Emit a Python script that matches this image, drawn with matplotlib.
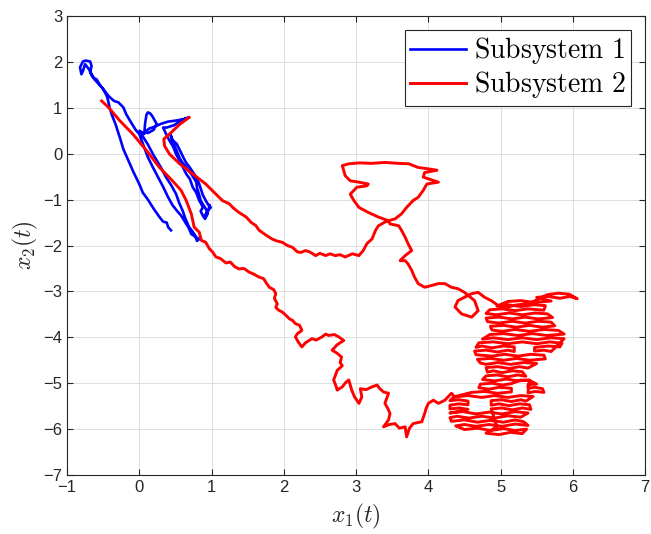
import numpy as np
import matplotlib
matplotlib.use("Agg")
import matplotlib.pyplot as plt

plt.rcParams['mathtext.fontset'] = 'cm'
plt.rcParams['font.family'] = ['Liberation Sans', 'DejaVu Sans']

# Subsystem 1 trajectory (x1, x2)
sub1_x = [0.44, 0.40, 0.38, 0.33, 0.28, 0.20, 0.12, 0.05, 0.00, -0.08, -0.15, -0.22, -0.27, -0.33,
          -0.38, -0.41, -0.43, -0.45, -0.50, -0.55, -0.59, -0.64, -0.68, -0.66, -0.68, -0.74, -0.78,
          -0.82, -0.80, -0.78, -0.75, -0.70, -0.62, -0.52, -0.42, -0.35, -0.29, -0.22, -0.18, -0.12,
          -0.05, 0.00, 0.05, 0.12, 0.19, 0.26, 0.33, 0.40, 0.46, 0.52, 0.58, 0.62, 0.65, 0.68, 0.72,
          0.75, 0.78, 0.80, 0.83, 0.79, 0.74, 0.69, 0.64, 0.60, 0.55, 0.51, 0.44, 0.37, 0.30, 0.19,
          0.12, 0.06, 0.005, 0.07, 0.08, 0.10, 0.12, 0.15, 0.18, 0.24, 0.20, 0.12, 0.08, 0.14, 0.20,
          0.30, 0.40, 0.50, 0.60, 0.69, 0.60, 0.48, 0.38, 0.33, 0.38, 0.42, 0.47, 0.51, 0.58, 0.65,
          0.70, 0.74, 0.79, 0.83, 0.86, 0.88, 0.85, 0.88, 0.91, 0.95, 0.92, 0.88, 0.85, 0.83, 0.80,
          0.79, 0.72, 0.65, 0.60, 0.56, 0.52, 0.46, 0.43, 0.46, 0.52, 0.56, 0.61, 0.65, 0.70, 0.75,
          0.79, 0.83, 0.86, 0.88, 0.92, 0.95, 0.99, 0.95, 0.91, 0.96, 0.97]
sub1_y = [-1.67, -1.60, -1.50, -1.48, -1.38, -1.20, -1.00, -0.85, -0.66, -0.40, -0.15, 0.10, 0.36,
          0.65, 0.85, 1.00, 1.15, 1.26, 1.41, 1.51, 1.62, 1.66, 1.77, 1.91, 2.01, 2.03, 2.01, 1.88,
          1.73, 1.80, 1.95, 1.85, 1.62, 1.45, 1.25, 1.15, 1.12, 1.01, 0.86, 0.70, 0.52, 0.43, 0.22,
          -0.08, -0.30, -0.51, -0.72, -0.95, -1.12, -1.24, -1.35, -1.45, -1.53, -1.60, -1.75, -1.78,
          -1.82, -1.90, -1.86, -1.82, -1.70, -1.60, -1.42, -1.24, -1.06, -0.88, -0.68, -0.51, -0.30,
          -0.01, 0.20, 0.35, 0.50, 0.43, 0.65, 0.85, 0.90, 0.88, 0.82, 0.65, 0.52, 0.45, 0.48, 0.55,
          0.58, 0.65, 0.70, 0.72, 0.75, 0.79, 0.74, 0.62, 0.57, 0.57, 0.40, 0.28, 0.15, -0.01, -0.22,
          -0.44, -0.55, -0.73, -0.85, -1.02, -1.10, -1.17, -1.25, -1.35, -1.42, -1.30, -1.20, -1.10,
          -1.02, -0.90, -0.75, -0.62, -0.44, -0.30, -0.20, -0.10, 0.05, 0.28, 0.43, 0.30, 0.21, 0.08,
          -0.08, -0.20, -0.30, -0.42, -0.51, -0.66, -0.80, -0.90, -1.02, -1.10, -1.17, -1.24, -1.35,
          -1.22, -1.12]

# Subsystem 2, part A: start at upper left, down and round the lower loop
sub2_a_x = [-0.52, -0.42, -0.27, -0.09, 0.10, 0.28, 0.46, 0.58, 0.65, 0.72, 0.76, 0.83, 0.86, 0.92,
            0.97, 1.02, 1.06, 1.12, 1.20, 1.26, 1.32, 1.38, 1.45, 1.52, 1.58, 1.66, 1.72, 1.76, 1.80,
            1.86, 1.89, 1.87, 1.91, 1.89, 1.93, 1.98, 2.03, 2.08, 2.12, 2.16, 2.22, 2.25, 2.19, 2.16,
            2.20, 2.25, 2.30, 2.39, 2.45, 2.53, 2.58, 2.62, 2.70, 2.76, 2.83, 2.74, 2.67, 2.74, 2.80,
            2.78, 2.81, 2.74, 2.69, 2.72, 2.74, 2.81, 2.86, 2.90, 2.94, 2.98, 3.04, 3.08, 3.06, 3.14,
            3.22, 3.29, 3.33, 3.38, 3.45, 3.40, 3.44, 3.47, 3.45, 3.38, 3.46, 3.54, 3.60, 3.68, 3.70,
            3.74, 3.79, 3.91, 3.95, 3.97, 4.00, 4.07, 4.14, 4.23, 4.32]
sub2_a_y = [1.15, 1.00, 0.72, 0.43, 0.07, -0.30, -0.59, -0.80, -1.02, -1.31, -1.60, -1.71, -1.89,
            -1.93, -2.07, -2.15, -2.25, -2.28, -2.38, -2.36, -2.46, -2.51, -2.50, -2.58, -2.62, -2.69,
            -2.72, -2.82, -2.91, -2.96, -3.05, -3.15, -3.27, -3.35, -3.41, -3.45, -3.52, -3.60, -3.63,
            -3.70, -3.74, -3.85, -3.92, -3.99, -4.10, -4.21, -4.12, -4.03, -4.06, -3.99, -3.93, -3.96,
            -3.94, -3.99, -4.07, -4.16, -4.28, -4.35, -4.43, -4.55, -4.62, -4.72, -4.93, -5.05, -5.15,
            -5.08, -4.98, -4.93, -5.15, -5.30, -5.44, -5.30, -5.12, -5.14, -5.08, -5.04, -5.12, -5.19,
            -5.22, -5.44, -5.55, -5.66, -5.80, -5.95, -5.90, -5.88, -5.98, -5.95, -6.17, -5.98, -5.88,
            -5.84, -5.66, -5.55, -5.44, -5.37, -5.44, -5.37, -5.22]

# Subsystem 2, part B: the dense tangle on the right, out to the far tip and back
sub2_b_pts = [
    (4.36, -5.29), (4.30, -5.38), (4.42, -5.36), (4.55, -5.39),
    (4.55, -5.47), (4.42, -5.45), (4.30, -5.48),
    (4.30, -5.56), (4.43, -5.54), (4.55, -5.57),
    (4.30, -5.65), (4.48, -5.62), (4.66, -5.67), (4.84, -5.63), (5.02, -5.67), (5.20, -5.62), (5.38, -5.65),
    (5.28, -5.74), (5.10, -5.71), (4.92, -5.76), (4.74, -5.72), (4.56, -5.76), (4.40, -5.72), (4.30, -5.75),
    (4.32, -5.83), (4.50, -5.80), (4.68, -5.85), (4.86, -5.81), (5.04, -5.85), (5.20, -5.80), (5.32, -5.84),
    (5.38, -5.92), (5.20, -5.89), (5.02, -5.94), (4.84, -5.90), (4.66, -5.94), (4.50, -5.90), (4.38, -5.93),
    (4.50, -6.01), (4.68, -5.98), (4.86, -6.03), (5.04, -5.99), (5.20, -6.03), (5.36, -6.00),
    (5.30, -6.10), (5.14, -6.07), (4.98, -6.12), (4.80, -6.09),
    (4.95, -5.95), (4.87, -5.56), (5.02, -5.54), (5.16, -5.58), (5.30, -5.54), (5.42, -5.57),
    (5.40, -5.47), (5.26, -5.45), (5.12, -5.49), (4.98, -5.45), (4.87, -5.48),
    (4.87, -5.38), (5.01, -5.36), (5.15, -5.40), (5.28, -5.36), (5.35, -5.39),
    (5.45, -5.29), (5.28, -5.27), (5.10, -5.31), (4.92, -5.27), (4.74, -5.31), (4.55, -5.27), (4.35, -5.30),
    (4.60, -5.20), (4.78, -5.18), (4.96, -5.22), (5.15, -5.19),
    (5.15, -5.11), (4.98, -5.09), (4.84, -5.13), (4.70, -5.10),
    (4.72, -5.02), (4.88, -5.00), (5.02, -5.04), (5.15, -5.01),
    (5.28, -4.93), (5.40, -4.94),
    (5.50, -5.02), (5.38, -5.03), (5.38, -5.11), (5.48, -5.09), (5.58, -5.12), (5.60, -5.20),
    (5.48, -5.18), (5.38, -5.21),
    (5.40, -4.93), (5.24, -4.95), (5.08, -4.91), (4.92, -4.95), (4.75, -4.92),
    (4.80, -4.84), (4.95, -4.82), (5.10, -4.86), (5.24, -4.82), (5.35, -4.85),
    (5.30, -4.75), (5.16, -4.73), (5.02, -4.77), (4.90, -4.73), (4.82, -4.76),
    (4.80, -4.66), (4.96, -4.64), (5.12, -4.68), (5.26, -4.64), (5.38, -4.67),
    (5.50, -4.57), (5.32, -4.55), (5.14, -4.59), (4.96, -4.55), (4.80, -4.59), (4.72, -4.56),
    (4.68, -4.48), (4.86, -4.46), (5.04, -4.50), (5.22, -4.46), (5.40, -4.50), (5.62, -4.47),
    (5.60, -4.39), (5.42, -4.37), (5.24, -4.41), (5.06, -4.37), (4.88, -4.41), (4.66, -4.38),
    (4.64, -4.30), (4.80, -4.28), (4.96, -4.32), (5.10, -4.28), (5.19, -4.31),
    (5.19, -4.21), (5.04, -4.19), (4.88, -4.23), (4.74, -4.19), (4.66, -4.22),
    (4.70, -4.12), (4.90, -4.10), (5.10, -4.14), (5.30, -4.10), (5.50, -4.14), (5.68, -4.10), (5.85, -4.13),
    (5.82, -4.21), (5.66, -4.19), (5.47, -4.22), (5.47, -4.30), (5.60, -4.28), (5.70, -4.31),
    (5.88, -4.03), (5.70, -4.01), (5.50, -4.05), (5.30, -4.01), (5.10, -4.05), (4.90, -4.01), (4.75, -4.04),
    (4.85, -3.94), (5.04, -3.92), (5.24, -3.96), (5.44, -3.92), (5.64, -3.96), (5.88, -3.93),
    (5.80, -3.85), (5.60, -3.83), (5.40, -3.87), (5.20, -3.83), (5.02, -3.87), (4.88, -3.84),
    (4.86, -3.76), (5.04, -3.74), (5.22, -3.78), (5.40, -3.74), (5.58, -3.78), (5.75, -3.75),
    (5.70, -3.67), (5.52, -3.65), (5.34, -3.69), (5.16, -3.65), (4.98, -3.69), (4.82, -3.66),
    (4.80, -3.58), (4.98, -3.56), (5.16, -3.60), (5.34, -3.56), (5.52, -3.60), (5.72, -3.57),
    (5.65, -3.49), (5.48, -3.47), (5.30, -3.51), (5.12, -3.47), (4.94, -3.51), (4.80, -3.48),
    (4.85, -3.40), (5.02, -3.38), (5.20, -3.42), (5.38, -3.38), (5.60, -3.41),
    (5.62, -3.31), (5.46, -3.29), (5.28, -3.33), (5.10, -3.29), (4.95, -3.32),
    (5.10, -3.22), (5.28, -3.20), (5.46, -3.24), (5.70, -3.21),
    (5.50, -3.13), (5.66, -3.11), (5.82, -3.15), (5.96, -3.11), (6.06, -3.16),
    (5.95, -3.06), (5.80, -3.04), (5.65, -3.07),
    (5.40, -3.26), (5.20, -3.30), (5.06, -3.36), (4.96, -3.30), (4.87, -3.20), (4.78, -3.13),
    (4.69, -3.02), (4.60, -3.05), (4.50, -3.13), (4.41, -3.20), (4.37, -3.34), (4.46, -3.49),
    (4.60, -3.56), (4.69, -3.42), (4.64, -3.20), (4.50, -3.02), (4.41, -2.94), (4.32, -2.91),
    (4.23, -2.83), (4.14, -2.83), (4.05, -2.87), (3.95, -2.91), (3.86, -2.83), (3.81, -2.69),
    (3.77, -2.54), (3.72, -2.40), (3.68, -2.33),
]
sub2_b_x = [p[0] for p in sub2_b_pts]
sub2_b_y = [p[1] for p in sub2_b_pts]

# Subsystem 2, part C: up to the crossing, round the top loop, back along the upper strand
sub2_c_x = [3.61, 3.68, 3.77, 3.72, 3.68, 3.63, 3.59, 3.47, 3.45, 3.54, 3.63, 3.70, 3.79, 3.86,
            3.93, 3.98, 4.14, 3.93, 3.95, 4.12, 4.00, 3.86, 3.73, 3.59, 3.40, 3.22, 3.05, 2.90, 2.81,
            2.83, 2.85, 2.92, 3.04, 3.17, 3.15, 3.01, 2.97, 2.92, 2.97, 3.04, 3.17, 3.31, 3.45, 3.40,
            3.31, 3.27, 3.22, 3.15, 3.10, 3.04, 2.95, 2.85, 2.78, 2.71, 2.64, 2.58, 2.50, 2.44, 2.36,
            2.30, 2.24, 2.19, 2.12, 2.05, 1.98, 1.90, 1.84, 1.76, 1.66, 1.61, 1.55, 1.48, 1.38, 1.30,
            1.245, 1.15, 1.06, 0.92, 0.74, 0.56, 0.42, 0.35, 0.34, 0.42, 0.56, 0.69]
sub2_c_y = [-2.33, -2.22, -2.11, -1.96, -1.82, -1.67, -1.57, -1.53, -1.46, -1.42, -1.31, -1.17,
            -1.02, -0.95, -0.80, -0.66, -0.62, -0.51, -0.41, -0.36, -0.33, -0.30, -0.22, -0.21, -0.19,
            -0.21, -0.20, -0.22, -0.26, -0.37, -0.48, -0.59, -0.62, -0.66, -0.70, -0.73, -0.80, -0.88,
            -1.02, -1.17, -1.28, -1.38, -1.46, -1.49, -1.57, -1.67, -1.86, -1.96, -2.11, -2.22, -2.18,
            -2.25, -2.20, -2.22, -2.18, -2.22, -2.17, -2.22, -2.14, -2.11, -2.15, -2.14, -2.04, -2.00,
            -1.93, -1.90, -1.86, -1.78, -1.67, -1.56, -1.50, -1.38, -1.28, -1.18, -1.09, -1.02, -0.88,
            -0.66, -0.44, -0.22, -0.01, 0.17, 0.32, 0.43, 0.64, 0.79]

labels = ['Subsystem 1', 'Subsystem 2']
x_ticks = np.arange(-1, 8)
y_ticks = np.arange(-7, 4)

sub2_x = sub2_a_x + sub2_b_x + sub2_c_x
sub2_y = sub2_a_y + sub2_b_y + sub2_c_y

fig = plt.figure(figsize=(6.51, 5.34), dpi=100)
ax = fig.add_axes([0.1029, 0.1105, 0.888, 0.8595])

ax.plot(sub1_x, sub1_y, color='#0000ff', lw=1.9, label=r'$\mathrm{' + labels[0].replace(' ', r'\ ') + '}$')
ax.plot(sub2_x, sub2_y, color='#ff0000', lw=2.1, label=r'$\mathrm{' + labels[1].replace(' ', r'\ ') + '}$')

ax.set_xlim(-1, 7)
ax.set_ylim(-7, 3)
ax.set_xticks(x_ticks)
ax.set_yticks(y_ticks)
ax.tick_params(direction='in', top=True, right=True, labelsize=12, colors='#262626', length=4)
ax.grid(True, color='#dedede', lw=0.7)
ax.set_axisbelow(True)
for s in ax.spines.values():
    s.set_color('#262626')
    s.set_linewidth(0.8)

ax.set_xlabel(r'$x_1(t)$', fontsize=17, color='#262626', labelpad=5)
ax.set_ylabel(r'$x_2(t)$', fontsize=17, color='#262626', labelpad=2)

leg = ax.legend(loc='upper right', fontsize=20, fancybox=False, edgecolor='#262626',
                framealpha=1, handlelength=2.0, borderpad=0.2, labelspacing=0.1,
                handletextpad=0.3, borderaxespad=0.5)
leg.get_frame().set_linewidth(0.8)

fig.savefig('out.png', dpi=100)
